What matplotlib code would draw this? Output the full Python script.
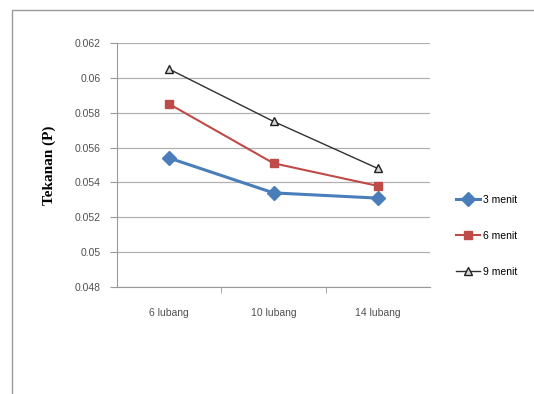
import matplotlib.pyplot as plt
from matplotlib.patches import Rectangle
import numpy as np

categories = ['6 lubang', '10 lubang', '14 lubang']
menit_3 = [0.0554, 0.0534, 0.0531]
menit_6 = [0.0585, 0.0551, 0.0538]
menit_9 = [0.0605, 0.0575, 0.0548]
yticks = [0.048, 0.05, 0.052, 0.054, 0.056, 0.058, 0.06, 0.062]
ytick_labels = ['0.048', '0.05', '0.052', '0.054', '0.056', '0.058', '0.06', '0.062']

small = 'Liberation Sans'

fig = plt.figure(figsize=(5.34, 3.94), dpi=100)
W, H = 534, 394
# chart border
fig.patches.append(Rectangle((12 / W, -0.05), 1.0, 1 - 10 / H + 0.05,
                             transform=fig.transFigure, fill=False,
                             edgecolor='#9a9a9a', linewidth=1.0))

ax = fig.add_axes([117 / W, 1 - 287 / H, (430 - 117) / W, (287 - 43) / H])
x = np.arange(len(categories))

ax.plot(x, menit_3, color='#4A7EBB', lw=2.2, marker='D', ms=7, label='3 menit')
ax.plot(x, menit_6, color='#BE4B48', lw=1.5, marker='s', ms=6, label='6 menit')
ax.plot(x, menit_9, color='#303030', lw=1.0, marker='^', ms=6,
        mfc='#d8d8d8', mec='#202020', label='9 menit')

ax.set_xlim(-0.5, 2.5)
ax.set_ylim(0.048, 0.062)
ax.set_yticks(yticks)
ax.set_yticklabels(ytick_labels, family=small, fontsize=7.5, color='#505050')
ax.set_xticks(x)
ax.set_xticklabels(categories, family=small, fontsize=7.5, color='#505050')
ax.set_xticks([0.5, 1.5], minor=True)
ax.tick_params(axis='x', which='major', length=0, pad=15)
ax.tick_params(axis='x', which='minor', length=4, color='#999999', direction='out')
ax.tick_params(axis='y', length=5, color='#999999', pad=7)
ax.yaxis.grid(True, color='#b0b0b0', lw=0.9)
ax.set_axisbelow(True)
for side in ['top', 'right']:
    ax.spines[side].set_visible(False)
for side in ['left', 'bottom']:
    ax.spines[side].set_color('#999999')

ax.set_ylabel('Tekanan (P)', family='Liberation Serif', fontweight='bold',
              fontsize=11, labelpad=13)

ax.legend(loc='center left', bbox_to_anchor=(1.07, 0.21), frameon=False,
          prop={'family': small, 'size': 7.5}, labelspacing=2.5,
          handlelength=2.3, handletextpad=0.3, borderaxespad=0)

fig.savefig('out.png', dpi=100)
